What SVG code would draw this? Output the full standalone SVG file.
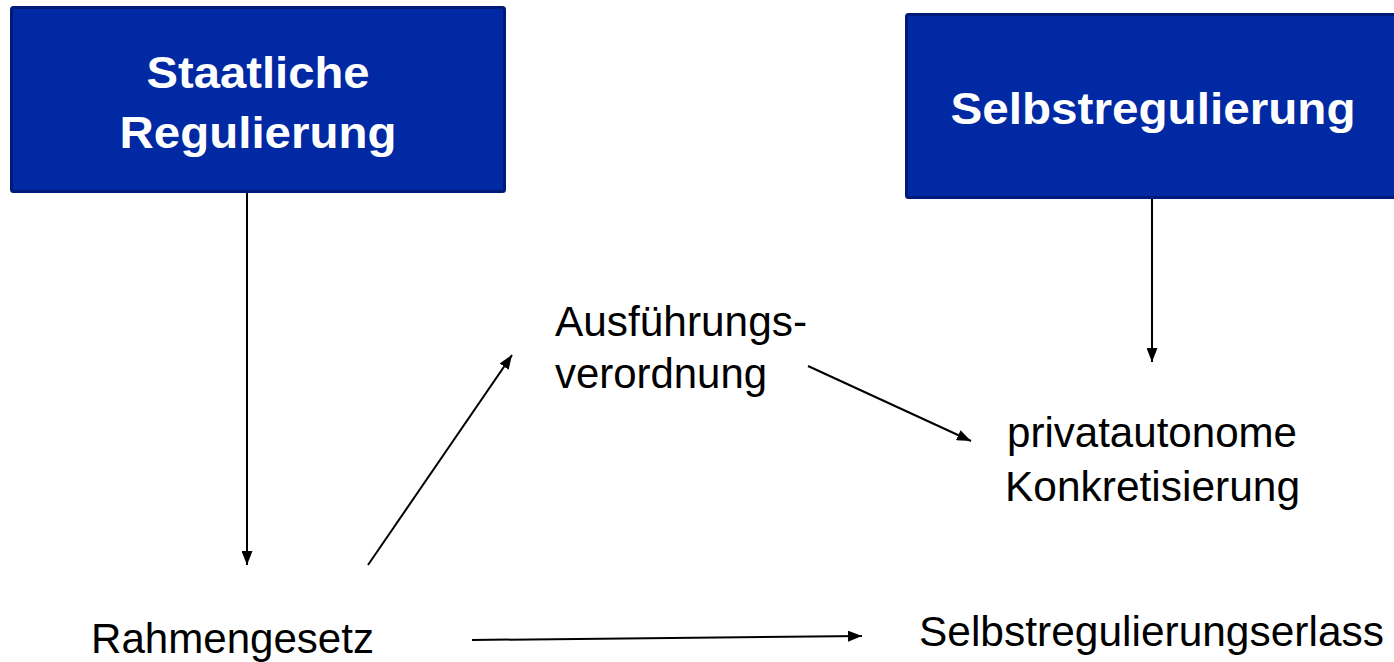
<svg xmlns="http://www.w3.org/2000/svg" width="1394" height="662" viewBox="0 0 1394 662">
<style>
.box{fill:#0029a3;stroke:#001a78;stroke-width:3}
.bt{font-family:"Liberation Sans",Arial,sans-serif;font-weight:bold;font-size:45px;fill:#fff;text-anchor:middle}
.t{font-family:"Liberation Sans",Arial,sans-serif;font-size:42px;fill:#000}
.c{stroke:#000;stroke-width:2;fill:none;marker-end:url(#ah)}
</style>
<defs>
<marker id="ah" viewBox="0 0 14 11" refX="14" refY="5.5" markerWidth="14" markerHeight="11" markerUnits="userSpaceOnUse" orient="auto">
<path d="M0,0 L14,5.5 L0,11 Z" fill="#000"/>
</marker>
</defs>
<rect width="1394" height="662" fill="#fff"/>
<g id="staatliche">
<rect class="box" x="11.5" y="7.5" width="493" height="184" rx="2"/>
<text class="bt" x="258" y="88" textLength="223" lengthAdjust="spacingAndGlyphs">Staatliche</text>
<text class="bt" x="258" y="148" textLength="277" lengthAdjust="spacingAndGlyphs">Regulierung</text>
</g>
<g id="selbstregulierung">
<rect class="box" x="906.5" y="14.5" width="500" height="183" rx="2"/>
<text class="bt" x="1153" y="124" textLength="405" lengthAdjust="spacingAndGlyphs">Selbstregulierung</text>
</g>
<g id="ausfuehrung">
<text class="t" x="555" y="336" textLength="252" lengthAdjust="spacingAndGlyphs">Ausführungs-</text>
<text class="t" x="555" y="388" textLength="212" lengthAdjust="spacingAndGlyphs">verordnung</text>
</g>
<g id="privat">
<text class="t" x="1007" y="447" textLength="290" lengthAdjust="spacingAndGlyphs">privatautonome</text>
<text class="t" x="1005" y="501" textLength="295" lengthAdjust="spacingAndGlyphs">Konkretisierung</text>
</g>
<g id="rahmengesetz">
<text class="t" x="91" y="653" textLength="283" lengthAdjust="spacingAndGlyphs">Rahmengesetz</text>
</g>
<g id="erlass">
<text class="t" x="919" y="646" textLength="465" lengthAdjust="spacingAndGlyphs">Selbstregulierungserlass</text>
</g>
<g id="connectors">
<line class="c" x1="247" y1="193" x2="247" y2="565"/>
<line class="c" x1="1152" y1="199" x2="1152" y2="362"/>
<line class="c" x1="368" y1="565" x2="512" y2="355"/>
<line class="c" x1="808" y1="366" x2="971" y2="441"/>
<line class="c" x1="472" y1="640" x2="862" y2="636"/>
</g>
</svg>
